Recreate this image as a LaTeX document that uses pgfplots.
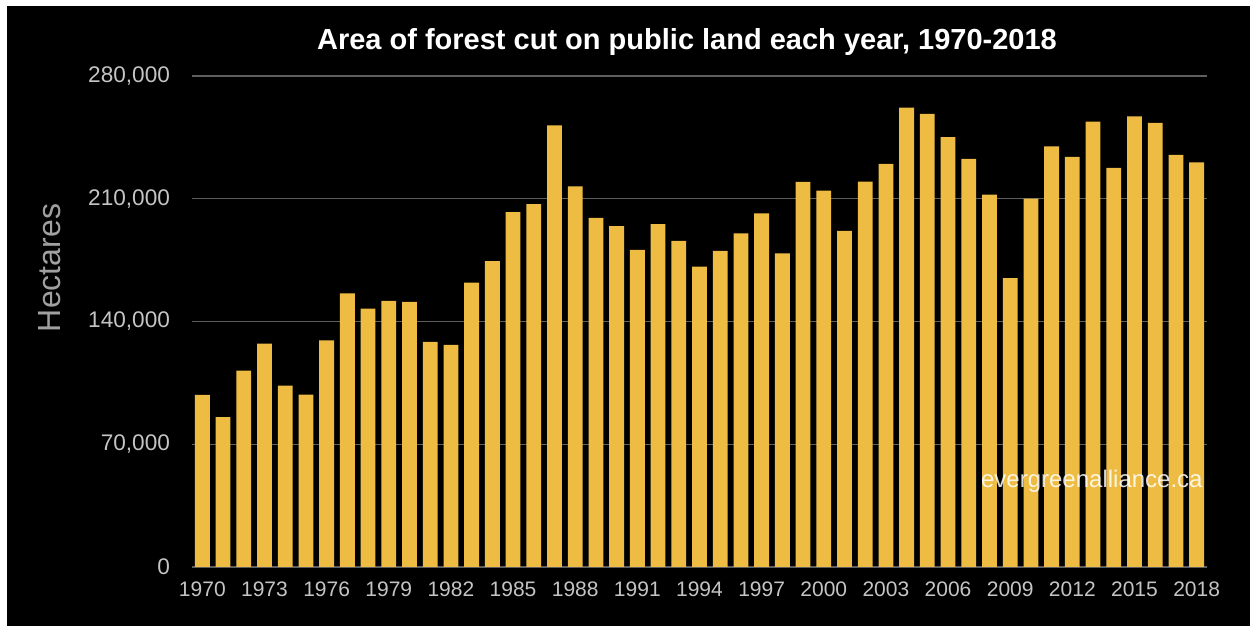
\documentclass[border=0pt]{standalone}
\usepackage{fontspec}
\setmainfont{Liberation Sans}
\usepackage{pgfplots}
\pgfplotsset{compat=1.18}
\definecolor{barc}{HTML}{EFBC43}
\definecolor{gridc}{HTML}{5E5E5E}
\definecolor{tickc}{HTML}{C4C4C4}
\definecolor{ylabc}{HTML}{A0A0A0}
\begin{document}
\begin{tikzpicture}
\useasboundingbox (0,0) rectangle (625pt,313pt);
\fill[white] (0,0) rectangle (625pt,313pt);
\fill[black] (3.5pt,-5pt) rectangle (630pt,310pt);
\begin{axis}[
  at={(96pt,29.5pt)}, anchor=south west,
  scale only axis, width=507.5pt, height=245.5pt,
  xmin=1969.5, xmax=2018.5, ymin=0, ymax=280000,
  ybar, bar width=7.4pt,
  axis line style={draw=none},
  major tick length=0pt,
  xtick={1970,1973,1976,1979,1982,1985,1988,1991,1994,1997,2000,2003,2006,2009,2012,2015,2018},
  xticklabels={1970,1973,1976,1979,1982,1985,1988,1991,1994,1997,2000,2003,2006,2009,2012,2015,2018},
  ytick={0,70000,140000,210000,280000},
  yticklabels={0,{70,000},{140,000},{210,000},{280,000}},
  xmajorgrids=false, ymajorgrids=true,
  major grid style={draw=gridc, line width=0.7pt},
  x tick label style={text=tickc, font=\fontsize{10.5}{12}\selectfont, yshift=-4pt},
  y tick label style={text=tickc, font=\fontsize{11.3}{13}\selectfont, xshift=-7.5pt},
  scaled y ticks=false,
]
\addplot[fill=barc, draw=none] coordinates {
(1970,98100) (1971,85400) (1972,112000) (1973,127400) (1974,103400)
(1975,98300) (1976,129300) (1977,156100) (1978,147400) (1979,151700)
(1980,151200) (1981,128400) (1982,126600) (1983,162200) (1984,174400)
(1985,202300) (1986,206900) (1987,251800) (1988,217000) (1989,199100)
(1990,194400) (1991,180800) (1992,195500) (1993,186000) (1994,171300)
(1995,180300) (1996,190200) (1997,201600) (1998,178800) (1999,219600)
(2000,214700) (2001,191700) (2002,219800) (2003,229900) (2004,261900)
(2005,258400) (2006,245100) (2007,232800) (2008,212400) (2009,164700)
(2010,210100) (2011,239800) (2012,233900) (2013,254000) (2014,227600)
(2015,256900) (2016,253300) (2017,235000) (2018,230700)
};
\end{axis}
\node[text=white, font=\bfseries\fontsize{14.5}{17}\selectfont] at (343.5pt,292pt) {Area of forest cut on public land each year, 1970-2018};
\node[text=ylabc, rotate=90, font=\fontsize{16}{19}\selectfont] at (25pt,179pt) {Hectares};
\node[text=white, opacity=0.85, anchor=east, inner sep=0pt, font=\fontsize{12}{14}\selectfont] at (601.5pt,72.2pt) {evergreenalliance.ca};
\end{tikzpicture}
\end{document}
